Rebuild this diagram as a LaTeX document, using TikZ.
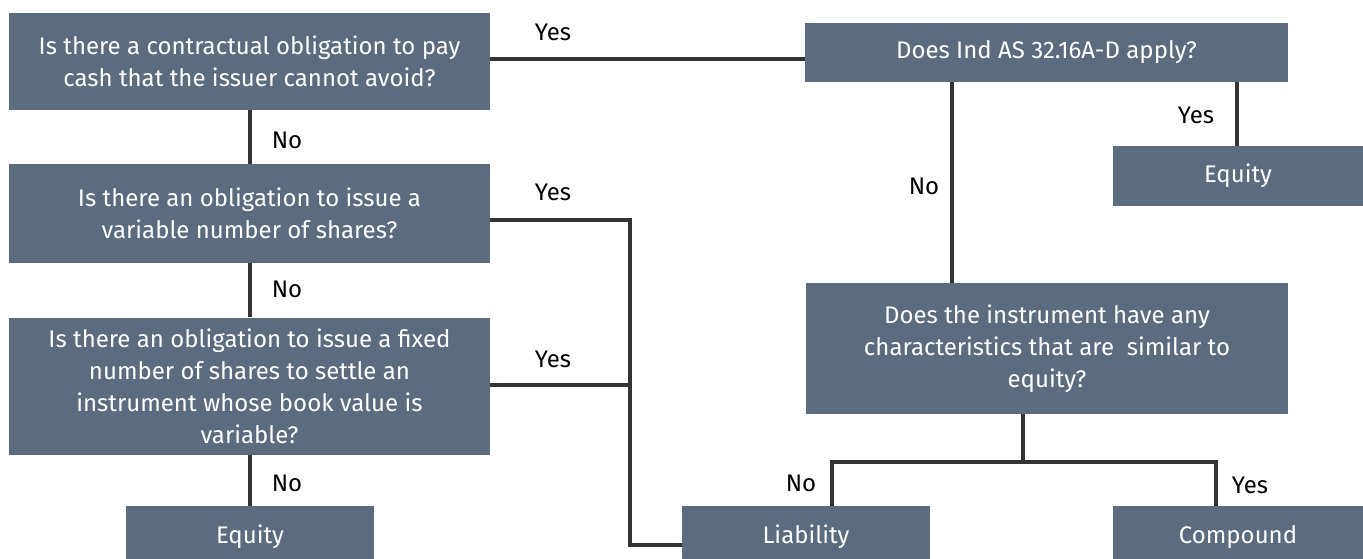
\documentclass[tikz,border=0pt]{standalone}
\usepackage{fontspec}
\setmainfont{Fira Sans}
\definecolor{boxfill}{RGB}{92,108,126}
\definecolor{linec}{RGB}{51,51,51}
\begin{document}
\begin{tikzpicture}[x=1pt,y=-1pt,
  box/.style={draw=none,fill=boxfill,text=white,align=center,inner sep=0pt,
    font=\fontsize{24}{32}\selectfont},
  conn/.style={draw=linec,line width=4pt},
  lbl/.style={font=\fontsize{24}{32}\selectfont,text=black,inner sep=0pt}]
\useasboundingbox (0,0) rectangle (1363,559);
\begin{scope}
\clip (0,0) rectangle (1363,559);
\node[box,minimum width=481,minimum height=97] (A) at (249.5,61.5)
  {Is there a contractual obligation to pay\\cash that the issuer cannot avoid?};
\node[box,minimum width=481,minimum height=99] (B) at (249.5,213.5)
  {Is there an obligation to issue a\\variable number of shares?};
\node[box,minimum width=481,minimum height=137] (C) at (249.5,386)
  {Is there an obligation to issue a fixed\\number of shares to settle an\\instrument whose book value is\\variable?};
\node[box,minimum width=248,minimum height=62] (EqL) at (250,537) {Equity};
\node[box,minimum width=248,minimum height=62] (Liab) at (806,537) {Liability};
\node[box,minimum width=250,minimum height=62] (Comp) at (1238,537) {Compound};
\node[box,minimum width=483,minimum height=59] (Ind) at (1046.5,52.5) {Does Ind AS 32.16A-D apply?};
\node[box,minimum width=250,minimum height=59] (EqR) at (1238,176) {Equity};
\node[box,minimum width=482,minimum height=131] (Ins) at (1047,348.5)
  {Does the instrument have any\\characteristics that are\ \ similar to\\equity?};
\end{scope}
% connectors
\coordinate (j1) at (630,220);
\coordinate (j2) at (630,385);
\coordinate (j3) at (630,545);
\coordinate (k1) at (1023,462);
\coordinate (k2) at (832,462);
\coordinate (k3) at (1216,462);
\draw[conn] (A.east |- 0,59) -- (Ind.west |- 0,59);
\draw[conn] (A.south -| 250,0) -- (B.north -| 250,0);
\draw[conn] (B.south -| 250,0) -- (C.north -| 250,0);
\draw[conn] (C.south -| 250,0) -- (EqL.north -| 250,0);
\draw[conn,line join=miter] (B.east |- j1) -- (j1) -- (j3) -- (Liab.west |- j3);
\draw[conn] (C.east |- j2) -- (j2);
\draw[conn] (Ind.south -| 952,0) -- (Ins.north -| 952,0);
\draw[conn] (Ind.south -| 1237,0) -- (EqR.north -| 1237,0);
\draw[conn] (Ins.south -| k1) -- (k1);
\draw[conn,line join=miter] (Liab.north -| k2) -- (k2) -- (k3) -- (Comp.north -| k3);
% labels
\node[lbl] (y1) at (553,32) {Yes};
\node[lbl] (y2) at (553,192) {Yes};
\node[lbl] (y3) at (553,359) {Yes};
\node[lbl] (n1) at (287,140) {No};
\node[lbl] (n2) at (287,289) {No};
\node[lbl] (n3) at (287,483) {No};
\node[lbl] (n4) at (924,186) {No};
\node[lbl] (y4) at (1196,115) {Yes};
\node[lbl] (n5) at (801,483) {No};
\node[lbl] (y5) at (1250,485) {Yes};
\end{tikzpicture}
\end{document}
